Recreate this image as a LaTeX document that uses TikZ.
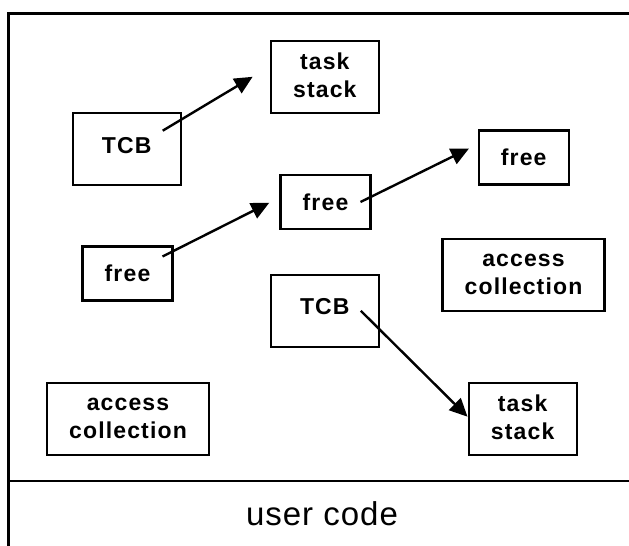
\documentclass[tikz,border=0pt]{standalone}
\usepackage{fontspec}
\setmainfont{Liberation Sans}
\usetikzlibrary{arrows.meta}

\begin{document}
\begin{tikzpicture}[x=0.75pt,y=0.75pt,yscale=-1,xscale=1,
  blk/.style={draw,line width=1.8pt,align=center,inner sep=0pt,
    font=\fontsize{17.25pt}{21pt}\selectfont\bfseries\addfontfeatures{LetterSpace=5}},
  tcb/.style={blk,minimum width=81pt,minimum height=54pt,text depth=6pt},
  stk/.style={blk,minimum width=81pt,minimum height=54pt,text depth=2pt},
  fre/.style={blk,minimum width=67.5pt,minimum height=40.5pt},
  acc/.style={blk,minimum width=121.5pt,minimum height=54pt},
  frm/.style={line width=1.8pt},
  arr/.style={line width=1.8pt,-{Triangle[length=13.5pt,width=12.5pt]}}]
\useasboundingbox (0,0) rectangle (629,546);

%outer frame and user code strip
\draw[frm] (629,13.3) -- (8.3,13.3) -- (8.3,546);
\draw[frm] (8.3,481) -- (629,481);
\node[font=\fontsize{24.75pt}{28pt}\selectfont\addfontfeatures{LetterSpace=3}] (ucode) at (322,514) {user code};

%boxes
\node[stk] (stackA) at (324.8,76.8) {task\\stack};
\node[tcb] (tcbA) at (126.7,149.2) {TCB};
\node[fre] (freeC) at (523.7,157.5) {free};
\node[fre] (freeB) at (325.5,202) {free};
\node[fre] (freeA) at (127.5,273.5) {free};
\node[acc] (accA) at (523.5,274.8) {access\\collection};
\node[tcb] (tcbB) at (324.8,310.8) {TCB};
\node[acc] (accB) at (128,418.7) {access\\collection};
\node[stk] (stackB) at (522.7,418.7) {task\\stack};

%arrows
\draw[arr] ([shift={(36,-18.5)}]tcbA.center) -- ([shift={(-17,0)}]stackA.west);
\draw[arr] ([shift={(35,-17)}]freeA.center) -- ([shift={(-10,0.7)}]freeB.west);
\draw[arr] ([shift={(35,0)}]freeB.center) -- ([shift={(-8.5,-9)}]freeC.west);
\draw[arr] ([shift={(36,0)}]tcbB.center) -- ([shift={(0,-2)}]stackB.west);

\end{tikzpicture}
\end{document}
